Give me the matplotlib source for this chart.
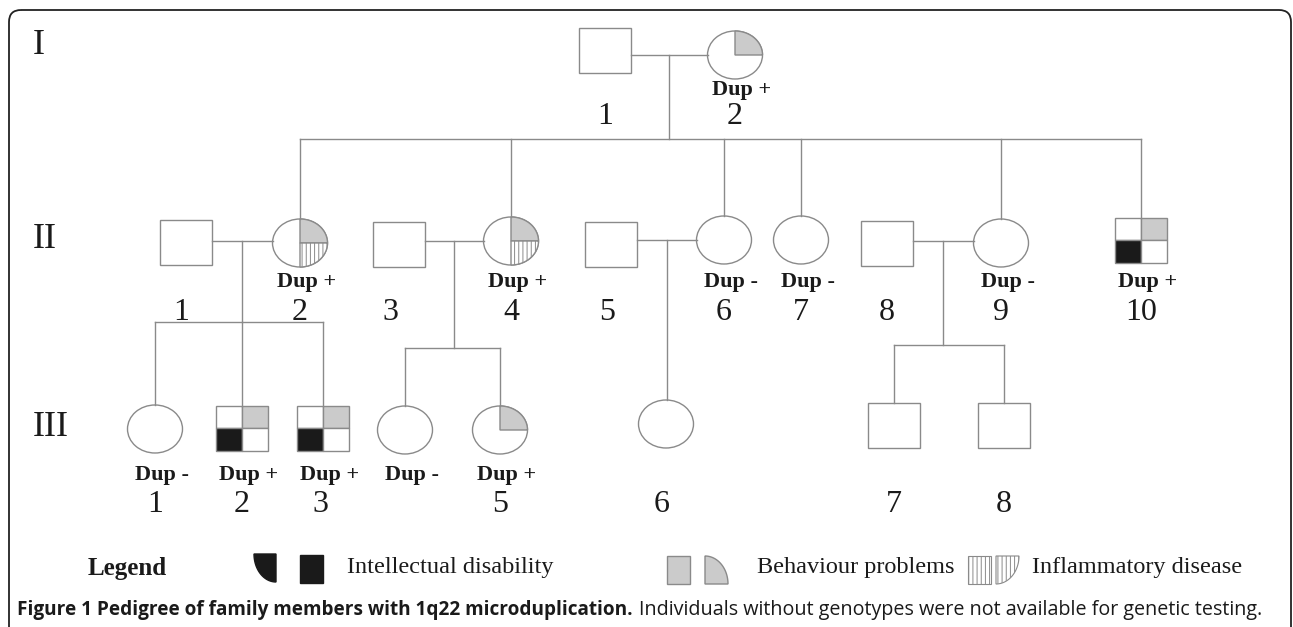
import matplotlib.pyplot as plt
from matplotlib.patches import Rectangle, Ellipse, Polygon, FancyBboxPatch
import numpy as np

plt.rcParams['hatch.linewidth'] = 0.7

# pedigree data: id, sex, duplication status, traits (intellectual, behaviour, inflammatory)
ids = ['I-1', 'I-2',
       'II-1', 'II-2', 'II-3', 'II-4', 'II-5', 'II-6', 'II-7', 'II-8', 'II-9', 'II-10',
       'III-1', 'III-2', 'III-3', 'III-4', 'III-5', 'III-6', 'III-7', 'III-8']
sex = ['M', 'F',
       'M', 'F', 'M', 'F', 'M', 'F', 'F', 'M', 'F', 'M',
       'F', 'M', 'M', 'F', 'F', 'F', 'M', 'M']
dup = ['', '+',
       '', '+', '', '+', '', '-', '-', '', '-', '+',
       '-', '+', '+', '-', '+', '', '', '']
intellectual = ['II-10', 'III-2', 'III-3']
behaviour = ['I-2', 'II-2', 'II-4', 'II-10', 'III-2', 'III-3', 'III-5']
inflammatory = ['II-2', 'II-4']
numbers = {'I-1': '1', 'I-2': '2',
           'II-1': '1', 'II-2': '2', 'II-3': '3', 'II-4': '4', 'II-5': '5',
           'II-6': '6', 'II-7': '7', 'II-8': '8', 'II-9': '9', 'II-10': '10',
           'III-1': '1', 'III-2': '2', 'III-3': '3', 'III-5': '5',
           'III-6': '6', 'III-7': '7', 'III-8': '8'}
couples = [('I-1', 'I-2'), ('II-1', 'II-2'), ('II-3', 'II-4'), ('II-5', 'II-6'), ('II-8', 'II-9')]
children = [['II-2', 'II-4', 'II-6', 'II-7', 'II-9', 'II-10'],
            ['III-1', 'III-2', 'III-3'],
            ['III-4', 'III-5'],
            ['III-6'],
            ['III-7', 'III-8']]

# layout (pixel space of the figure)
pos = {'I-1': (605, 50), 'I-2': (735, 55),
       'II-1': (186, 242), 'II-2': (300, 243), 'II-3': (399, 244), 'II-4': (511, 241),
       'II-5': (611, 244), 'II-6': (724, 240), 'II-7': (801, 240), 'II-8': (887, 243),
       'II-9': (1001, 243), 'II-10': (1141, 240),
       'III-1': (155, 429), 'III-2': (242, 428), 'III-3': (323, 428), 'III-4': (405, 430),
       'III-5': (500, 430), 'III-6': (666, 424), 'III-7': (894, 425), 'III-8': (1004, 425)}
num_dx = {'II-1': -5, 'II-3': -9, 'II-5': -4, 'III-3': -3, 'III-6': -4}
sib_y = [139, 322, 348, None, 345]
gen_y = {'I': (45, 117, 90), 'II': (240, 313, 282), 'III': (428, 505, 475)}

SQ_W, SQ_H = 52, 45
CI_W, CI_H = 55, 48
LINE = '#8a8a8a'
GREY = '#cbcbcb'
DARK = '#1a1a1a'

fig = plt.figure(figsize=(12.93, 6.27), dpi=100)
ax = fig.add_axes([0, 0, 1, 1])
ax.set_xlim(0, 1293)
ax.set_ylim(627, 0)
ax.axis('off')

ax.add_patch(FancyBboxPatch((9, 10), 1282, 700, boxstyle='round,pad=0,rounding_size=12',
                            fill=False, ec='#222222', lw=1.3))


def top(i):
    x, y = pos[i]
    return y - (SQ_H if sex[ids.index(i)] == 'M' else CI_H) / 2


def side(i, right):
    x, y = pos[i]
    w = SQ_W if sex[ids.index(i)] == 'M' else CI_W
    return x + w / 2 if right else x - w / 2


def ell_quarter(cx, cy, a, b, t0, t1):
    t = np.radians(np.linspace(t0, t1, 40))
    pts = [(cx, cy)] + list(zip(cx + a * np.cos(t), cy - b * np.sin(t)))
    return pts


# connecting lines
for (h, w), kids, sy in zip(couples, children, sib_y):
    y = pos[w][1] if h.startswith('I-') else (pos[h][1] + pos[w][1]) / 2 - 2
    x0, x1 = side(h, True), side(w, False)
    ax.plot([x0, x1], [y, y], color=LINE, lw=1)
    mx = (x0 + x1) / 2
    if sy is None:
        ax.plot([mx, mx], [y, top(kids[0])], color=LINE, lw=1)
        continue
    ax.plot([mx, mx], [y, sy], color=LINE, lw=1)
    kx = [pos[k][0] for k in kids]
    ax.plot([min(kx), max(kx)], [sy, sy], color=LINE, lw=1)
    for k in kids:
        ax.plot([pos[k][0], pos[k][0]], [sy, top(k)], color=LINE, lw=1)

# symbols
for i, s in zip(ids, sex):
    x, y = pos[i]
    if s == 'M':
        if i in intellectual or i in behaviour:
            qw, qh = SQ_W / 2, SQ_H / 2
            cells = [(x - qw, y - qh, 'white'), (x, y - qh, GREY if i in behaviour else 'white'),
                     (x - qw, y, DARK if i in intellectual else 'white'), (x, y, 'white')]
            for cx, cy, c in cells:
                ax.add_patch(Rectangle((cx, cy), qw, qh, fc=c, ec=LINE, lw=1))
        else:
            ax.add_patch(Rectangle((x - SQ_W / 2, y - SQ_H / 2), SQ_W, SQ_H, fc='white', ec=LINE, lw=1))
    else:
        a, b = CI_W / 2, CI_H / 2
        ax.add_patch(Ellipse((x, y), CI_W, CI_H, fc='white', ec=LINE, lw=1))
        if i in behaviour:
            ax.add_patch(Polygon(ell_quarter(x, y, a, b, 0, 90), fc=GREY, ec=LINE, lw=1))
        if i in inflammatory:
            ax.add_patch(Polygon(ell_quarter(x, y, a, b, -90, 0), fc='white', ec=LINE,
                                 lw=0, hatch='||||'))
            ax.add_patch(Polygon(ell_quarter(x, y, a, b, -90, 0), fill=False, ec=LINE, lw=1))

# labels
for i, d in zip(ids, dup):
    g = i.split('-')[0]
    x = pos[i][0]
    if d:
        ax.text(x + 7, gen_y[g][2], 'Dup ' + d, ha='center', va='center', fontsize=16,
                fontweight='bold', family='Liberation Serif', color=DARK)
    if i in numbers:
        ax.text(x + num_dx.get(i, 0), gen_y[g][1], numbers[i],
                ha='center', va='center', fontsize=23, family='Liberation Serif', color=DARK)

for g, (y, _, _) in gen_y.items():
    ax.text(33, y, g, ha='left', va='center', fontsize=26, family='Liberation Serif', color=DARK)

# legend
LY = 568
ax.text(88, LY, 'Legend', ha='left', va='center', fontsize=18, fontweight='bold',
        family='Liberation Serif', color=DARK)
ax.add_patch(Polygon(ell_quarter(276, 554, 22, 28, 180, 270), fc=DARK, ec=DARK, lw=1))
ax.add_patch(Rectangle((300, 555), 23, 28, fc=DARK, ec=DARK))
ax.text(347, LY, 'Intellectual disability', ha='left', va='center', fontsize=17.5,
        family='Liberation Serif', color=DARK)
ax.add_patch(Rectangle((667, 556), 23, 28, fc=GREY, ec=LINE, lw=1))
ax.add_patch(Polygon(ell_quarter(705, 584, 23, 28, 0, 90), fc=GREY, ec=LINE, lw=1))
ax.text(757, LY, 'Behaviour problems', ha='left', va='center', fontsize=17.5,
        family='Liberation Serif', color=DARK)
ax.add_patch(Rectangle((968, 556), 23, 28, fc='white', ec=LINE, lw=0.8, hatch='||||'))
ax.add_patch(Polygon(ell_quarter(996, 556, 23, 28, 270, 360), fc='white', ec=LINE, lw=0.8,
                     hatch='||||'))
ax.text(1032, LY, 'Inflammatory disease', ha='left', va='center', fontsize=17.5,
        family='Liberation Serif', color=DARK)

# caption
t = ax.text(17, 610, 'Figure 1 Pedigree of family members with 1q22 microduplication.',
            ha='left', va='center', fontsize=13.7, fontweight='bold', family='Open Sans',
            color=DARK)
fig.canvas.draw()
bb = t.get_window_extent().transformed(ax.transData.inverted())
ax.text(bb.x1 + 6, 610, 'Individuals without genotypes were not available for genetic testing.',
        ha='left', va='center', fontsize=14.2, family='Open Sans', color=DARK)

fig.savefig('out.png', dpi=100)
